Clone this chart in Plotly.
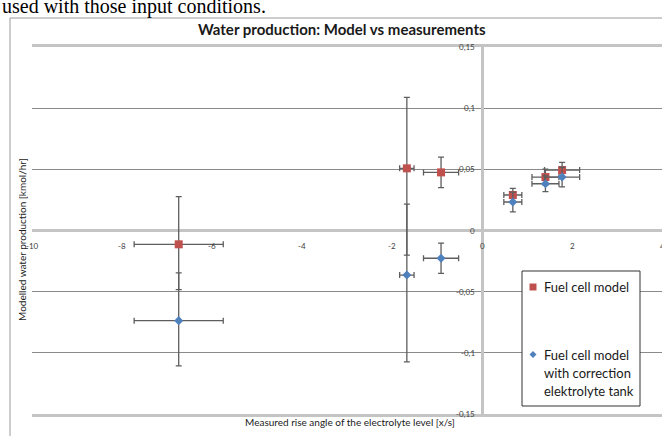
import plotly.graph_objects as go

# Measured rise angle of the electrolyte level [x/s] and its uncertainty
rise_angle = [-6.74, -1.67, -0.91, 0.685, 1.41, 1.78]
rise_angle_err = [0.99, 0.16, 0.39, 0.20, 0.30, 0.39]

# Modelled water production [kmol/hr]
model = [-0.0113, 0.0508, 0.0475, 0.0290, 0.0437, 0.0494]
model_err_plus = [0.039, 0.058, 0.0125, 0.0055, 0.0065, 0.0063]
model_err_minus = [0.037, 0.071, 0.0125, 0.0055, 0.0065, 0.0063]

model_corr = [-0.0737, -0.0364, -0.0227, 0.0233, 0.0382, 0.0437]
model_corr_err_plus = [0.039, 0.058, 0.0123, 0.0080, 0.0065, 0.0080]
model_corr_err_minus = [0.037, 0.071, 0.0123, 0.0080, 0.0065, 0.0080]

series_names = ["Fuel cell model", "Fuel cell model<br>with correction<br>elektrolyte tank"]

x_ticks = [-10, -8, -6, -4, -2, 0, 2, 4]
x_tick_text = ["-10", "-8", "-6", "-4", "-2", "0", "2", "4"]
y_ticks = [0.15, 0.1, 0.05, 0, -0.05, -0.1, -0.15]
y_tick_text = ["0,15", "0,1", "0,05", "0", "-0,05", "-0,1", "-0,15"]

FONT = "Lato"
ERR_COLOR = "#5e5e5e"
RED = "#C0504D"
BLUE = "#4F81BD"

# figure geometry in pixels
W, H = 662, 436
L, R, T, B = 32, 0, 47, 22
pw, ph = W - L - R, H - T - B


def px_x(p):
    return (p - L) / pw


def px_y(p):
    return (H - B - p) / ph


fig = go.Figure()

fig.add_trace(go.Scatter(
    x=rise_angle, y=model, mode="markers", name=series_names[0],
    marker=dict(symbol="square", size=8, color=RED),
    error_x=dict(type="data", array=rise_angle_err, color=ERR_COLOR, thickness=1.3, width=3),
    error_y=dict(type="data", array=model_err_plus, arrayminus=model_err_minus,
                 color=ERR_COLOR, thickness=1.3, width=3),
    showlegend=False,
))
fig.add_trace(go.Scatter(
    x=rise_angle, y=model_corr, mode="markers", name=series_names[1],
    marker=dict(symbol="diamond", size=7, color=BLUE),
    error_x=dict(type="data", array=rise_angle_err, color=ERR_COLOR, thickness=1.3, width=3),
    error_y=dict(type="data", array=model_corr_err_plus, arrayminus=model_corr_err_minus,
                 color=ERR_COLOR, thickness=1.3, width=3),
    showlegend=False,
))

# Tick labels sit next to the axes that cross at the origin
annotations = []
for v, t in zip(x_ticks, x_tick_text):
    annotations.append(dict(x=v, y=0, xref="x", yref="y", text=t, showarrow=False,
                            xanchor="center", yanchor="top", yshift=-8,
                            font=dict(family=FONT, size=8, color="#404040")))
for v, t in zip(y_ticks, y_tick_text):
    annotations.append(dict(x=0, y=v, xref="x", yref="y", text=t, showarrow=False,
                            xanchor="right", yanchor="middle", xshift=-5,
                            font=dict(family=FONT, size=8, color="#404040")))


def px_text(x, y, text, size, xanchor="center", family=FONT, color="#1a1a1a", **kw):
    return dict(x=px_x(x), y=px_y(y), xref="paper", yref="paper", text=text,
                showarrow=False, xanchor=xanchor, yanchor="middle",
                font=dict(family=family, size=size, color=color), **kw)


annotations += [
    px_text(342, 29, "<b>Water production: Model vs measurements</b>", 15),
    px_text(350, 422, "Measured rise angle of the electrolyte level [x/s]", 10),
    px_text(22, 240, "Modelled water production [kmol/hr]", 10, textangle=-90),
    px_text(0, 6, "used with those input conditions.", 20, xanchor="left",
            family="Liberation Serif", color="#000000"),
]

# Legend box contents
LEG_TEXT_X = 542
legend_lines = [(287, "Fuel cell model"), (354.5, "Fuel cell model"),
                (372.5, "with correction"), (390.5, "elektrolyte tank")]
for y, t in legend_lines:
    annotations.append(px_text(LEG_TEXT_X, y, t, 13, xanchor="left"))

shapes = [
    # chart area frame (left and top edges)
    dict(type="line", xref="paper", yref="paper", x0=px_x(10), x1=px_x(10), y0=px_y(18), y1=px_y(460),
         line=dict(color="#9a9a9a", width=1)),
    dict(type="line", xref="paper", yref="paper", x0=px_x(10), x1=px_x(700), y0=px_y(18), y1=px_y(18),
         line=dict(color="#9a9a9a", width=1)),
    # legend frame
    dict(type="rect", xref="paper", yref="paper", x0=px_x(522), x1=px_x(640), y0=px_y(271), y1=px_y(406),
         fillcolor="white", line=dict(color="#333333", width=1), layer="above"),
    # legend symbols
    dict(type="rect", xref="paper", yref="paper", x0=px_x(529.5), x1=px_x(536.5),
         y0=px_y(283.5), y1=px_y(290.5), fillcolor=RED, line=dict(width=0), layer="above"),
    dict(type="path", xref="paper", yref="paper",
         path="M {:.5f},{:.5f} L {:.5f},{:.5f} L {:.5f},{:.5f} L {:.5f},{:.5f} Z".format(
             px_x(533), px_y(351), px_x(536.5), px_y(354.5), px_x(533), px_y(358), px_x(529.5), px_y(354.5)),
         fillcolor=BLUE, line=dict(width=0), layer="above"),
]

fig.update_layout(
    width=W, height=H,
    margin=dict(l=L, r=R, t=T, b=B, pad=0),
    paper_bgcolor="white", plot_bgcolor="white",
    showlegend=False,
    xaxis=dict(range=[-10, 4], showgrid=False, showticklabels=False, ticks="",
               zeroline=True, zerolinecolor="#c4c4c4", zerolinewidth=2.5,
               showline=True, mirror=True, linecolor="#c4c4c4", linewidth=2.5),
    yaxis=dict(range=[-0.15, 0.15], tickvals=[-0.1, -0.05, 0.05, 0.1], showticklabels=False, ticks="",
               showgrid=True, gridcolor="#8a8a8a", gridwidth=1,
               zeroline=True, zerolinecolor="#c4c4c4", zerolinewidth=2.5, showline=False),
    annotations=annotations,
    shapes=shapes,
)

fig.write_html("out.html")
